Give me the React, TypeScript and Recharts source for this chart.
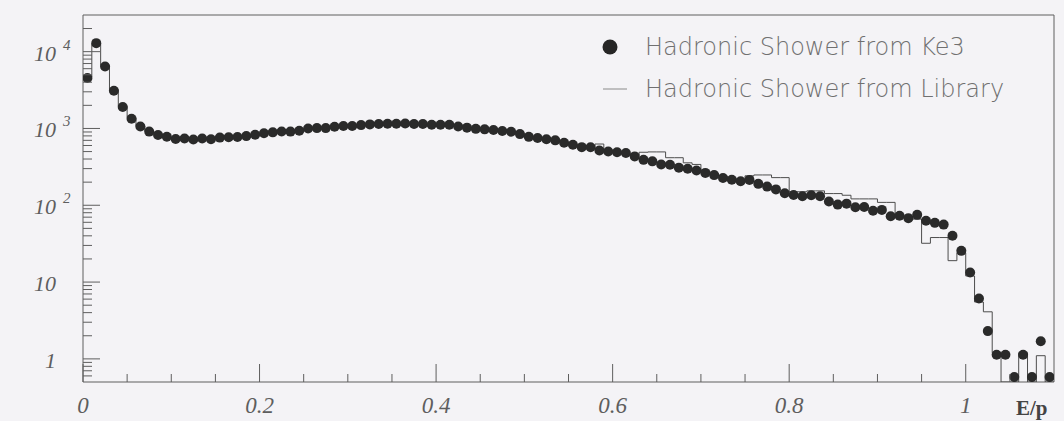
import React from 'react';
import { ComposedChart, Line, Scatter, XAxis, YAxis, ReferenceArea, Legend } from 'recharts';

// E/p histogram, bins of 0.01 from 0 to 1.1
const BIN_WIDTH = 0.01;
const X_MAX = 1.1;
const Y_MIN = 0.5;
const Y_MAX = 30000;
const DOT_FLOOR = 0.58; // empty bins are drawn sitting on the axis

const KE3_NAME = 'Hadronic Shower from Ke3';
const LIB_NAME = 'Hadronic Shower from Library';
const X_TITLE = 'E/p';

const ke3Counts = [
  4550, 12900, 6400, 3100, 1900, 1340, 1060, 910, 820, 780,
  730, 740, 720, 740, 725, 760, 770, 775, 795, 830,
  865, 890, 915, 910, 935, 1000, 1010, 1010, 1050, 1075,
  1075, 1105, 1130, 1145, 1150, 1150, 1158, 1143, 1140, 1120,
  1118, 1115, 1062, 1025, 988, 973, 955, 925, 906, 844,
  777, 753, 724, 700, 652, 612, 571, 570, 516, 501,
  490, 480, 433, 390, 373, 339, 336, 309, 299, 284,
  264, 247, 227, 215, 205, 214, 190, 175, 161, 143,
  136, 131, 135, 131, 112, 102, 105, 94, 95, 85,
  87, 72, 73, 68, 75, 63, 59, 56, 40, 25.5,
  13.3, 6.1, 2.3, 1.13, 1.13, 0, 1.13, 0, 1.7, 0,
];

const libraryCounts = [
  4700, 12500, 6600, 3200, 1950, 1380, 1080, 930, 840, 770,
  740, 735, 730, 735, 740, 750, 775, 780, 800, 820,
  860, 880, 905, 925, 945, 985, 1000, 1020, 1040, 1060,
  1080, 1100, 1120, 1140, 1160, 1140, 1170, 1150, 1130, 1130,
  1110, 1100, 1070, 1040, 1000, 980, 960, 935, 900, 860,
  800, 760, 730, 705, 660, 620, 590, 560, 627, 510,
  495, 470, 440, 490, 495, 495, 416, 416, 357, 340,
  280, 258, 240, 225, 215, 242, 248, 248, 229, 229,
  150, 150, 154, 154, 142, 142, 135, 121, 121, 121,
  109, 109, 69, 69, 66, 32, 38, 38, 19, 24,
  12, 5.5, 4.1, 1.2, 0, 0, 1.2, 0, 1.1, 0,
];

const xMajorTicks = [0, 0.2, 0.4, 0.6, 0.8, 1];
const xMinorTicks = [0.05, 0.1, 0.15, 0.25, 0.3, 0.35, 0.45, 0.5, 0.55, 0.65, 0.7, 0.75, 0.85, 0.9, 0.95, 1.05];
const xTickLabels = ['0', '0.2', '0.4', '0.6', '0.8', '1'];

const yMajorTicks = [1, 10, 100, 1000, 10000];
const yMinorTicks = [
  0.6, 0.7, 0.8, 0.9,
  2, 3, 4, 5, 6, 7, 8, 9,
  20, 30, 40, 50, 60, 70, 80, 90,
  200, 300, 400, 500, 600, 700, 800, 900,
  2000, 3000, 4000, 5000, 6000, 7000, 8000, 9000,
  20000,
];

const ke3Data = ke3Counts.map((c, i) => ({ x: (i + 0.5) * BIN_WIDTH, y: c > 0 ? c : DOT_FLOOR }));
const libraryData = libraryCounts.map((c, i) => ({ x: i * BIN_WIDTH, y: c > 0 ? c : Y_MIN }));
libraryData.push({ x: X_MAX, y: libraryData[libraryData.length - 1].y });

const INK = '#5e5e5e';
const SERIF = '"Liberation Serif", "Times New Roman", serif';

const XTick = (props: any) => {
  const { x, y, payload } = props;
  const idx = xMajorTicks.findIndex((t) => Math.abs(t - payload.value) < 1e-9);
  const major = idx >= 0;
  return (
    <g>
      <line x1={x} x2={x} y1={y} y2={y - (major ? 18 : 8)} stroke={INK} strokeWidth={1} />
      {major && (
        <text x={x} y={y + 31} textAnchor="middle" fontFamily={SERIF} fontStyle="italic" fontSize={23} fill={INK}>
          {xTickLabels[idx]}
        </text>
      )}
    </g>
  );
};

const YTick = (props: any) => {
  const { x, y, payload } = props;
  const v = payload.value;
  const major = yMajorTicks.includes(v);
  const exp = Math.round(Math.log10(v));
  return (
    <g>
      <line x1={x} x2={x + (major ? 17 : 9)} y1={y} y2={y} stroke={INK} strokeWidth={1} />
      {major && (
        <text x={x - 27} y={y + 9} textAnchor="end" fontFamily={SERIF} fontStyle="italic" fontSize={22} fill={INK}>
          {exp === 0 ? '1' : '10'}
        </text>
      )}
      {major && exp >= 2 && (
        <text x={x - 20} y={y - 2} textAnchor="start" fontFamily={SERIF} fontStyle="italic" fontSize={15} fill={INK}>
          {exp}
        </text>
      )}
    </g>
  );
};

const renderLegend = (props: any) => {
  const items = [...(props.payload || [])].sort(
    (a: any, b: any) => (a.type === 'circle' ? 0 : 1) - (b.type === 'circle' ? 0 : 1)
  );
  return (
    <div style={{ fontFamily: '"DejaVu Sans", sans-serif', fontWeight: 200, fontSize: 24, color: '#707070' }}>
      {items.map((item: any) => (
        <div key={item.value} style={{ display: 'flex', alignItems: 'center', height: 42 }}>
          <svg width={50} height={42}>
            {item.type === 'circle' ? (
              <circle cx={15} cy={21} r={7.5} fill="#262626" />
            ) : (
              <line x1={8} x2={32} y1={21} y2={21} stroke="#8a8a8a" strokeWidth={1} />
            )}
          </svg>
          <span style={{ whiteSpace: 'nowrap' }}>{item.value}</span>
        </div>
      ))}
    </div>
  );
};

export default function App() {
  return (
    <div style={{ position: 'absolute', left: 0, top: 0, width: 1064, height: 421, background: '#f4f3f6' }}>
      <ComposedChart width={1064} height={421} margin={{ top: 15, right: 10, bottom: 0, left: 23 }}>
        <XAxis
          dataKey="x"
          type="number"
          domain={[0, X_MAX]}
          allowDataOverflow
          ticks={[...xMajorTicks, ...xMinorTicks]}
          interval={0}
          tick={<XTick />}
          tickSize={0}
          tickMargin={0}
          axisLine={false}
          height={39}
        />
        <YAxis
          dataKey="y"
          type="number"
          scale="log"
          domain={[Y_MIN, Y_MAX]}
          allowDataOverflow
          ticks={[...yMajorTicks, ...yMinorTicks]}
          interval={0}
          tick={<YTick />}
          tickSize={0}
          tickMargin={0}
          axisLine={false}
          width={60}
        />
        <ReferenceArea x1={0} x2={X_MAX} y1={Y_MIN} y2={Y_MAX} fill="none" stroke={INK} strokeWidth={1} />
        <Line
          name={LIB_NAME}
          data={libraryData}
          dataKey="y"
          type="stepAfter"
          stroke="#4d4d4d"
          strokeWidth={1}
          dot={false}
          activeDot={false}
          legendType="line"
          isAnimationActive={false}
        />
        <Scatter
          name={KE3_NAME}
          data={ke3Data}
          dataKey="y"
          legendType="circle"
          fill="#262626"
          shape={(p: any) => <circle cx={p.cx} cy={p.cy} r={5} fill="#2a2a2a" />}
          isAnimationActive={false}
        />
        <Legend
          layout="horizontal"
          verticalAlign="middle"
          align="center"
          content={renderLegend}
          wrapperStyle={{ left: 595, top: 26, width: 460 }}
        />
      </ComposedChart>
      <div
        style={{
          position: 'absolute',
          left: 1016,
          top: 396,
          fontFamily: SERIF,
          fontWeight: 'bold',
          fontSize: 21,
          color: '#444',
          lineHeight: '24px',
        }}
      >
        {X_TITLE}
      </div>
    </div>
  );
}
